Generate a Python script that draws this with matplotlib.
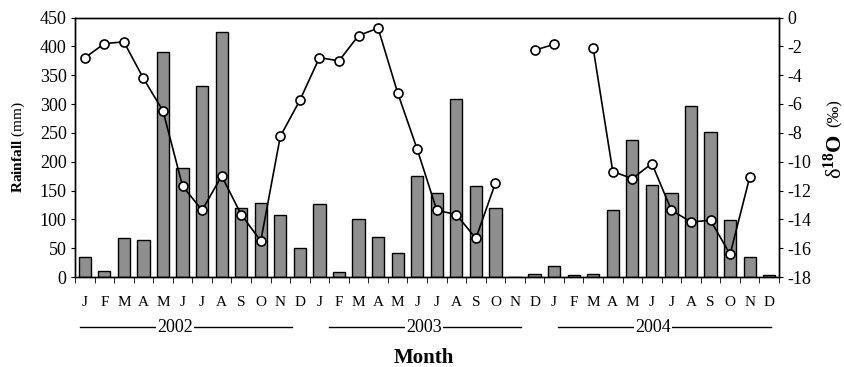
import numpy as np
import matplotlib
matplotlib.use("Agg")
import matplotlib.pyplot as plt
import matplotlib.transforms as mtransforms

plt.rcParams['font.family'] = ['Liberation Serif', 'DejaVu Serif']
plt.rcParams['mathtext.fontset'] = 'custom'
plt.rcParams['mathtext.rm'] = 'Liberation Serif'
plt.rcParams['mathtext.it'] = 'Liberation Serif:italic'
plt.rcParams['mathtext.bf'] = 'Liberation Serif:bold'
plt.rcParams['axes.unicode_minus'] = False

# ---- data ----
month_labels = ['J', 'F', 'M', 'A', 'M', 'J', 'J', 'A', 'S', 'O', 'N', 'D'] * 3
years = ['2002', '2003', '2004']
rainfall = [34, 11, 67, 65, 391, 189, 332, 424, 119, 129, 108, 51,
            126, 8, 101, 70, 42, 175, 146, 309, 158, 119, 0, 6,
            19, 3, 6, 116, 237, 160, 146, 296, 251, 99, 34, 3]
d18o = [-2.80, -1.81, -1.69, -4.23, -6.48, -11.69, -13.37, -10.99, -13.67, -15.50, -8.24, -5.74,
        -2.78, -3.01, -1.25, -0.74, -5.23, -9.14, -13.37, -13.67, -15.32, -11.48, np.nan, -2.27,
        -1.86, np.nan, -2.15, -10.69, -11.17, -10.13, -13.37, -14.18, -14.07, -16.43, -11.08, np.nan]

# ---- figure ----
fig = plt.figure(figsize=(8.45, 3.67), dpi=100)
W, H = 845, 367
L, R, T, B = 75, 779, 17.5, 277
ax = fig.add_axes([L / W, 1 - B / H, (R - L) / W, (B - T) / H])
ax2 = ax.twinx()

x = np.arange(len(rainfall))
ax.bar(x, rainfall, width=0.62, color='#8f8f8f', edgecolor='black', linewidth=1.0, zorder=2)
ax.set_xlim(-0.5, len(rainfall) - 0.5)
ax.set_ylim(0, 450)
ax.set_yticks(np.arange(0, 451, 50))
ax.tick_params(axis='y', labelsize=13, length=3, direction='out', pad=3)

ax.set_xticks(x)
ax.set_xticklabels(month_labels, fontsize=11)
ax.set_xticks(np.arange(-0.5, len(rainfall), 1), minor=True)
ax.tick_params(axis='x', which='major', length=0, pad=14)
ax.tick_params(axis='x', which='minor', length=4, direction='out')

d = np.array(d18o, dtype=float)
ax2.plot(x, d, color='black', linewidth=1.2, marker='o', markersize=6.5,
         markerfacecolor='white', markeredgecolor='black', markeredgewidth=1.2, zorder=3)
ax2.set_ylim(-18, 0)
ax2.set_yticks(np.arange(-18, 1, 2))
ax2.tick_params(axis='y', labelsize=13, length=3, direction='out', pad=3)
ax2.set_xlim(-0.5, len(rainfall) - 0.5)

for a in (ax, ax2):
    for s in a.spines.values():
        s.set_linewidth(1.0)

# year spans (layout): start, end, label center relative to first month of year
year_layout = [(-0.24, 10.59, 4.61), (0.49, 10.3, 5.34), (0.19, 11.08, 5.05)]
trans = mtransforms.blended_transform_factory(ax.transData, ax.transAxes)
for k, (yr, (s, e, c)) in enumerate(zip(years, year_layout)):
    base = 12 * k
    ax.plot([base + s, base + e], [-0.193, -0.193], transform=trans, color='black',
            linewidth=1.0, clip_on=False)
    ax.text(base + c, -0.193, yr, transform=trans, ha='center', va='center', fontsize=13,
            bbox=dict(facecolor='white', edgecolor='none', pad=0.6))

fig.text(424 / W, 1 - 358 / H, 'Month', ha='center', va='center', fontsize=15, fontweight='bold')
fig.text(18 / W, 1 - 147 / H, r'$\mathbf{Rainfall}$ (mm)', rotation=90, ha='center', va='center', fontsize=11)
fig.text(835 / W, 1 - 157 / H, r'$\mathrm{\delta}^{\mathbf{18}}\mathbf{O}$', rotation=90, ha='center', va='center', fontsize=16)
fig.text(835 / W, 1 - 113 / H, '(‰)', rotation=90, ha='center', va='center', fontsize=12)

fig.savefig('out.png', dpi=100)
